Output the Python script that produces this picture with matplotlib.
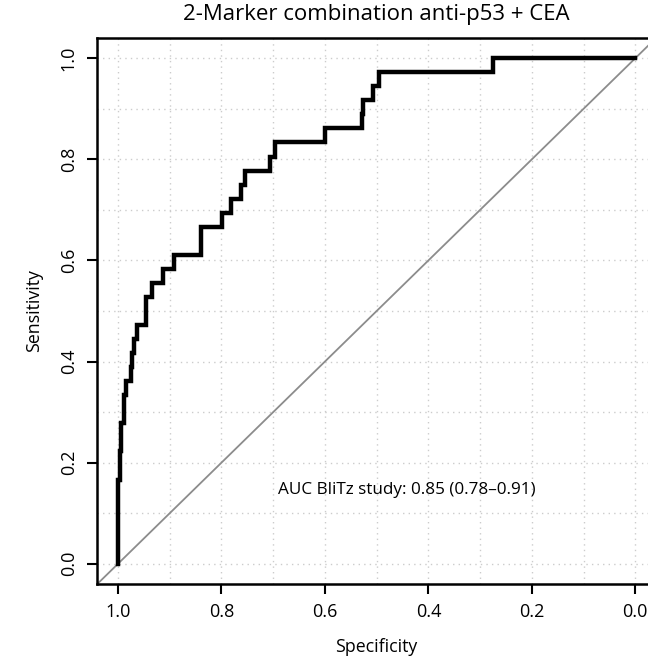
import numpy as np
import matplotlib
matplotlib.use("Agg")
import matplotlib.pyplot as plt

plt.rcParams['font.family'] = ['Open Sans', 'DejaVu Sans']

# ROC staircase: specificity where each rise happens, and sensitivity after the rise
rise_spec = [1.000, 0.997, 0.995, 0.988, 0.985, 0.975, 0.973, 0.969, 0.964,
             0.946, 0.934, 0.913, 0.892, 0.840, 0.798, 0.781, 0.762, 0.754,
             0.706, 0.696, 0.600, 0.529, 0.526, 0.508, 0.496, 0.275]
rise_sens = [6, 8, 10, 12, 13, 14, 15, 16, 17, 19, 20, 21, 22, 24, 25, 26,
             27, 28, 29, 30, 31, 32, 33, 34, 35, 36]
n_cases = 36

title = "2-Marker combination anti-p53 + CEA"
auc_label = "AUC BliTz study: 0.85 (0.78\u20130.91)"
ticks = [0.0, 0.2, 0.4, 0.6, 0.8, 1.0]

# build staircase vertices
sens_after = np.array(rise_sens) / n_cases
spec_pts = [1.0]
sens_pts = [0.0]
prev = 0.0
for s, v in zip(rise_spec, sens_after):
    spec_pts += [s, s]
    sens_pts += [prev, v]
    prev = v
spec_pts.append(0.0)
sens_pts.append(prev)

fig = plt.figure(figsize=(6.48, 6.63), dpi=100)
ax = fig.add_axes([97.3 / 648, (663 - 584) / 663, (656 - 97.3) / 648, (584 - 38) / 663])

ax.set_xlim(1.04, -0.04)
ax.set_ylim(-0.04, 1.04)

# dotted grid
for g in np.arange(0, 1.01, 0.1):
    ax.axvline(g, color='#cccccc', linestyle=(0, (1, 3)), linewidth=1, zorder=0)
    ax.axhline(g, color='#cccccc', linestyle=(0, (1, 3)), linewidth=1, zorder=0)

ax.axline((1, 0), (0, 1), color='#8c8c8c', linewidth=1.3, zorder=1)
ax.plot(spec_pts, sens_pts, color='black', linewidth=3.2, solid_joinstyle='miter', zorder=2)

ax.text(0.69, 0.146, auc_label, fontsize=12.3, ha='left', va='center')

ax.set_xticks(ticks)
ax.set_xticklabels([f"{t:.1f}" for t in ticks])
ax.set_yticks(ticks)
ax.set_yticklabels([f"{t:.1f}" for t in ticks], rotation=90, va='center')
ax.tick_params(direction='out', length=7, width=1.5, labelsize=13, pad=7)
for sp in ax.spines.values():
    sp.set_linewidth(1.8)

ax.set_xlabel("Specificity", fontsize=12.8, labelpad=12)
ax.set_ylabel("Sensitivity", fontsize=12.8, labelpad=12)
ax.set_title(title, fontsize=16, pad=13)

fig.savefig("out.png", dpi=100)
